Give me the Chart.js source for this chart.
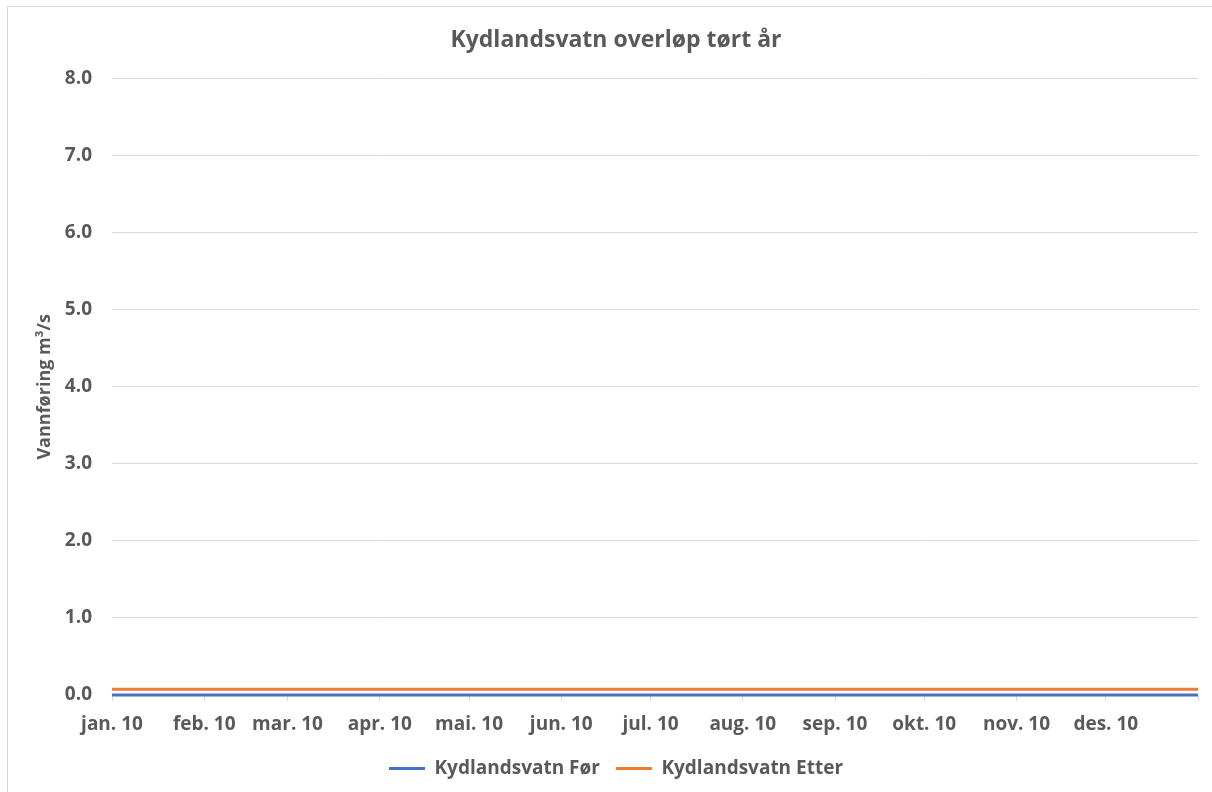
<!DOCTYPE html>
<html>
<head>
<meta charset="utf-8">
<script src="https://cdn.jsdelivr.net/npm/chart.js@4"></script>
<style>
  html, body { margin: 0; padding: 0; background: #fff; }
  #wrap { position: relative; width: 1212px; height: 792px; overflow: hidden; }
  #frame { position: absolute; left: 7px; top: 6px; width: 1300px; height: 900px;
           border-top: 1px solid #d9d9d9; border-left: 1px solid #d9d9d9; }
  canvas { position: absolute; left: 0; top: 0; }
</style>
</head>
<body>
<div id="wrap">
  <div id="frame"></div>
  <canvas id="chart" width="1212" height="792"></canvas>
</div>
<script>
// month ticks (day of year 2010) and labels
const monthDays = [0, 31, 59, 90, 120, 151, 181, 212, 243, 273, 304, 334, 365];
const monthLabels = ['jan. 10', 'feb. 10', 'mar. 10', 'apr. 10', 'mai. 10', 'jun. 10',
                     'jul. 10', 'aug. 10', 'sep. 10', 'okt. 10', 'nov. 10', 'des. 10', ''];

// overflow, m3/s
const forValues   = [0, 0, 0, 0, 0, 0, 0, 0, 0, 0, 0, 0, 0];
const etterValues = [0.075, 0.075, 0.075, 0.075, 0.075, 0.075, 0.075, 0.075, 0.075, 0.075, 0.075, 0.075, 0.075];

const yTicks = [0, 1, 2, 3, 4, 5, 6, 7, 8];

const textColor = '#595959';
const gridColor = '#d9d9d9';
const fontFamily = '"Open Sans", Lato, sans-serif';

function toPoints(values) {
    return values.map((v, i) => ({ x: monthDays[i], y: v }));
}

const config = {
    type: 'line',
    data: {
        datasets: [
            {
                label: 'Kydlandsvatn Før',
                data: toPoints(forValues),
                borderColor: '#4472C4',
                backgroundColor: '#4472C4',
                borderWidth: 3,
                pointRadius: 0,
                clip: false
            },
            {
                label: 'Kydlandsvatn Etter',
                data: toPoints(etterValues),
                borderColor: '#ED7D31',
                backgroundColor: '#ED7D31',
                borderWidth: 3,
                pointRadius: 0,
                clip: false
            }
        ]
    },
    options: {
        responsive: false,
        animation: false,
        devicePixelRatio: 1,
        layout: { padding: { left: 34, right: 14, top: 25, bottom: 4 } },
        scales: {
            x: {
                type: 'linear',
                min: 0,
                max: 365,
                afterBuildTicks: (scale) => {
                    scale.ticks = monthDays.map(d => ({ value: d }));
                },
                afterFit: (scale) => { scale.height = 48; },
                ticks: {
                    autoSkip: false,
                    maxRotation: 0,
                    padding: 12,
                    color: textColor,
                    font: { family: fontFamily, size: 19, weight: 'bold' },
                    callback: (value) => {
                        const i = monthDays.indexOf(value);
                        return i >= 0 ? monthLabels[i] : '';
                    }
                },
                grid: {
                    drawOnChartArea: false,
                    drawTicks: true,
                    tickLength: 6,
                    color: gridColor
                },
                border: { color: gridColor }
            },
            y: {
                min: 0,
                max: 8,
                afterBuildTicks: (scale) => {
                    scale.ticks = yTicks.map(v => ({ value: v }));
                },
                afterFit: (scale) => { scale.width = 78; },
                ticks: {
                    padding: 20,
                    color: textColor,
                    font: { family: fontFamily, size: 19, weight: 'bold' },
                    callback: (value) => value.toFixed(1)
                },
                grid: { color: gridColor, drawTicks: false, lineWidth: 1 },
                border: { display: false },
                title: {
                    display: true,
                    text: 'Vannføring m³/s',
                    color: textColor,
                    font: { family: fontFamily, size: 18, weight: 'bold' },
                    padding: { top: 0, bottom: 0 }
                }
            }
        },
        plugins: {
            title: {
                display: true,
                text: 'Kydlandsvatn overløp tørt år',
                color: textColor,
                font: { family: fontFamily, size: 23, weight: 'bold' },
                padding: { top: 2, bottom: 24 }
            },
            legend: {
                position: 'bottom',
                labels: {
                    usePointStyle: true,
                    pointStyle: 'line',
                    pointStyleWidth: 36,
                    color: textColor,
                    padding: 16,
                    font: { family: fontFamily, size: 19, weight: 'bold' }
                }
            },
            tooltip: { enabled: false }
        }
    }
};

const chart = new Chart(document.getElementById('chart').getContext('2d'), config);
</script>
</body>
</html>
